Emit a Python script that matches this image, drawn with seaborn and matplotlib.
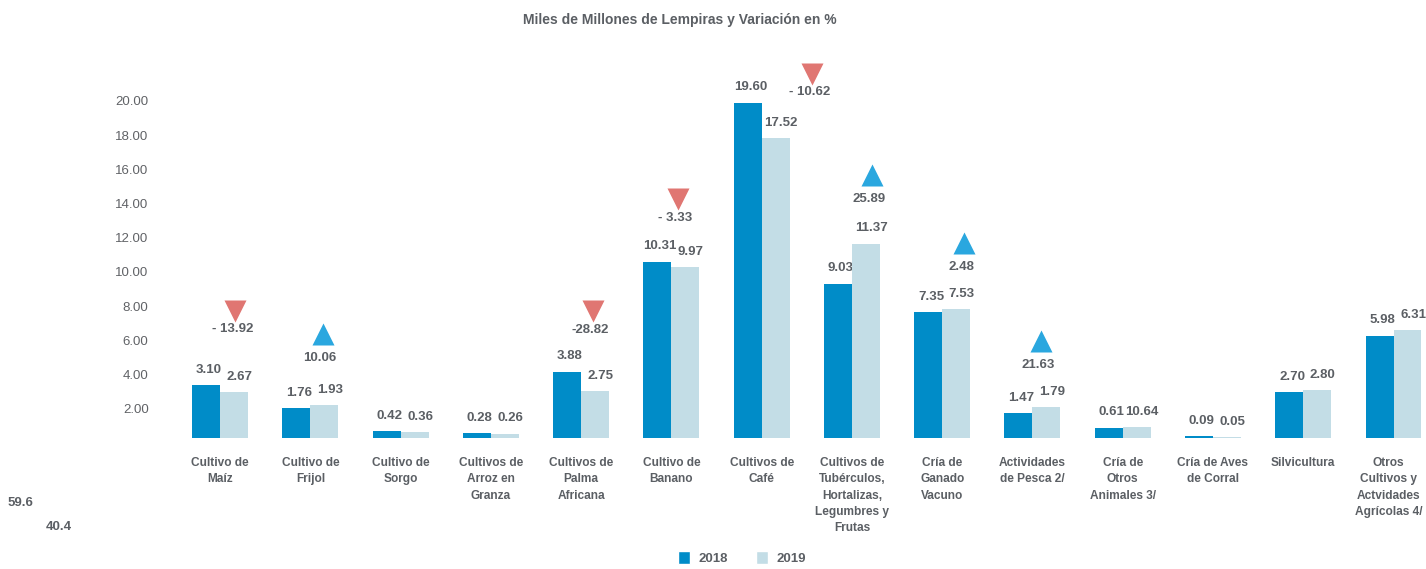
import numpy as np
import pandas as pd
import seaborn as sns
import matplotlib.pyplot as plt
from matplotlib.patches import Patch
from matplotlib.transforms import ScaledTranslation

# datos
categorias = ["Cultivo de\nMaíz", "Cultivo de\nFrijol", "Cultivo de\nSorgo",
              "Cultivos de\nArroz en\nGranza", "Cultivos de\nPalma\nAfricana",
              "Cultivo de\nBanano", "Cultivos de\nCafé",
              "Cultivos de\nTubérculos,\nHortalizas,\nLegumbres y\nFrutas",
              "Cría de\nGanado\nVacuno", "Actividades\nde Pesca 2/",
              "Cría de\nOtros\nAnimales 3/", "Cría de Aves\nde Corral",
              "Silvicultura", "Otros\nCultivos y\nActvidades\nAgrícolas 4/"]
valores_2018 = [3.10, 1.76, 0.42, 0.28, 3.88, 10.31, 19.60, 9.03, 7.35, 1.47, 0.61, 0.09, 2.70, 5.98]
valores_2019 = [2.67, 1.93, 0.36, 0.26, 2.75, 9.97, 17.52, 11.37, 7.53, 1.79, 0.64, 0.05, 2.80, 6.31]
etiq_2018 = ["3.10", "1.76", "0.42", "0.28", "3.88", "10.31", "19.60", "9.03", "7.35", "1.47", "0.61", "0.09", "2.70", "5.98"]
etiq_2019 = ["2.67", "1.93", "0.36", "0.26", "2.75", "9.97", "17.52", "11.37", "7.53", "1.79", "10.64", "0.05", "2.80", "6.31"]

# variación en % (solo las que aparecen con flecha)
var_idx = [0, 1, 4, 5, 6, 7, 8, 9]
var_valor = [-13.92, 10.06, -28.82, -3.33, -10.62, 25.89, 2.48, 21.63]
var_texto = ["- 13.92", "10.06", "-28.82", "- 3.33", "- 10.62", "25.89", "2.48", "21.63"]
# posición de las flechas (en unidades del eje)
var_altura = [7.45, 6.1, 7.4, 13.95, 21.3, 15.4, 11.4, 5.7]
var_dx = [0.17, 0.14, 0.13, 0.07, 0.56, 0.22, 0.24, 0.09]

gris = "#5b5f64"
azul = "#008cc8"
celeste = "#c3dde6"

df = pd.DataFrame({
    "cat": categorias * 2,
    "anio": ["2018"] * len(categorias) + ["2019"] * len(categorias),
    "valor": valores_2018 + valores_2019,
})

sns.set_theme(style="white")
plt.rcParams["font.family"] = ["Liberation Sans", "DejaVu Sans"]

fig = plt.figure(figsize=(14.26, 5.69), dpi=100)
ax = fig.add_axes([175 / 1426, 131 / 569, 1251 / 1426, 378 / 569])

sns.barplot(data=df, x="cat", y="valor", hue="anio", order=categorias,
            palette=[azul, celeste], saturation=1, width=0.62, gap=0,
            linewidth=0, legend=False, ax=ax, zorder=2)

ax.set_xlim(-0.5, 13.36)
ax.set_ylim(0, 22.1)
sns.despine(ax=ax, left=True, bottom=True)
ax.set_xlabel("")
ax.set_ylabel("")

# eje y
ax.set_yticks(np.arange(2, 21, 2))
ax.set_yticklabels([f"{v:.2f}" for v in np.arange(2, 21, 2)], fontsize=9.5, color="#606266")
ax.tick_params(axis="y", length=0, pad=19)
for lbl in ax.get_yticklabels():
    lbl.set_transform(lbl.get_transform() + ScaledTranslation(0, -0.05, fig.dpi_scale_trans))

# eje x
ax.set_xticks(range(len(categorias)))
ax.set_xticklabels(categorias, fontsize=8.6, fontweight="bold", color=gris, linespacing=1.45)
ax.tick_params(axis="x", length=0, pad=14)
ultimo = ax.get_xticklabels()[-1]
ultimo.set_transform(ultimo.get_transform() + ScaledTranslation(-0.05, 0, fig.dpi_scale_trans))

# etiquetas de valores
for i in range(len(categorias)):
    ax.annotate(etiq_2018[i], (i - 0.155, valores_2018[i]), xytext=(2, 11),
                textcoords="offset points", ha="center", va="center",
                fontsize=9.5, fontweight="bold", color=gris, zorder=1)
    ax.annotate(etiq_2019[i], (i + 0.155, valores_2019[i]), xytext=(4, 11),
                textcoords="offset points", ha="center", va="center",
                fontsize=9.5, fontweight="bold", color=gris, zorder=3)

# flechas de variación
for k, i in enumerate(var_idx):
    x = i + var_dx[k]
    y = var_altura[k]
    if var_valor[k] < 0:
        ax.plot(x, y, marker="v", ms=16, color="#e07672", mec="none", clip_on=False, zorder=4)
        off = -13.5
    else:
        ax.plot(x, y, marker="^", ms=16, color="#2aa7df", mec="none", clip_on=False, zorder=4)
        off = -17.5
    ax.annotate(var_texto[k], (x, y), xytext=(-2, off), textcoords="offset points",
                ha="center", va="center", fontsize=9.5, fontweight="bold", color=gris)

fig.text(680 / 1426, 1 - 20 / 569, "Miles de Millones de Lempiras y Variación en %",
         ha="center", va="center", fontsize=10, fontweight="bold", color=gris)

fig.text(8 / 1426, 1 - 503 / 569, "59.6", ha="left", va="center",
         fontsize=9.5, fontweight="bold", color=gris)
fig.text(46 / 1426, 1 - 527 / 569, "40.4", ha="left", va="center",
         fontsize=9.5, fontweight="bold", color=gris)

handles = [Patch(facecolor=azul, label="2018"), Patch(facecolor=celeste, label="2019")]
leg = fig.legend(handles=handles, loc="center", bbox_to_anchor=(742 / 1426, 1 - 558 / 569),
                 ncol=2, frameon=False, handlelength=0.9, handleheight=1.1,
                 columnspacing=2.2, handletextpad=0.6, fontsize=9.5)
for t in leg.get_texts():
    t.set_color(gris)
    t.set_fontweight("bold")

plt.savefig("out.png", dpi=100)
